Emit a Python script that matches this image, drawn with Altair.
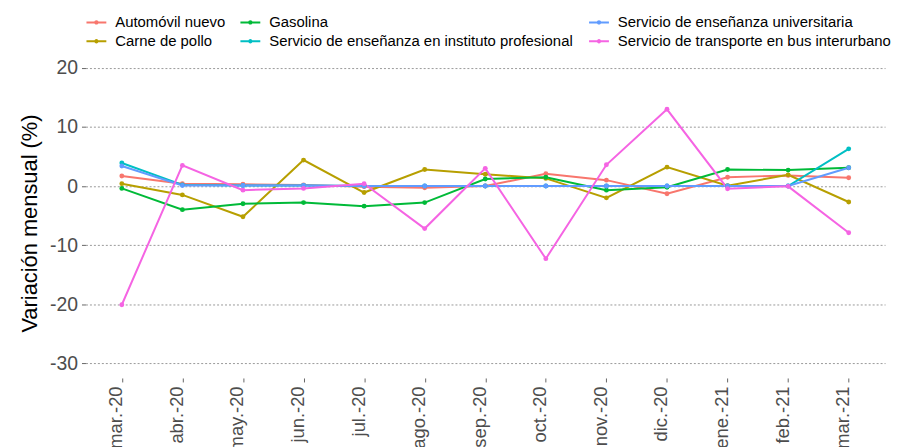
import altair as alt
import pandas as pd

months = ["mar.-20", "abr.-20", "may.-20", "jun.-20", "jul.-20", "ago.-20", "sep.-20",
          "oct.-20", "nov.-20", "dic.-20", "ene.-21", "feb.-21", "mar.-21"]

auto = [1.7, 0.4, 0.3, 0.2, -0.1, -0.3, 0.0, 2.1, 1.0, -1.3, 1.5, 1.8, 1.4]
carne = [0.4, -1.5, -5.2, 4.4, -1.1, 2.8, 2.0, 1.3, -2.0, 3.2, 0.05, 1.9, -2.7]
gasolina = [-0.4, -4.0, -3.0, -2.8, -3.4, -2.8, 1.2, 1.5, -0.7, -0.2, 2.8, 2.7, 3.1]
instituto = [3.9, 0.2, 0.1, 0.1, 0.0, 0.0, 0.0, 0.0, 0.0, 0.0, 0.0, 0.0, 6.3]
univ = [3.4, 0.1, 0.1, 0.1, 0.0, 0.0, 0.0, 0.0, 0.0, 0.0, 0.0, 0.0, 3.1]
bus = [-20.1, 3.5, -0.7, -0.4, 0.4, -7.2, 3.0, -12.3, 3.6, 13.0, -0.45, -0.05, -7.9]

series_names = ["Automóvil nuevo", "Carne de pollo", "Gasolina",
                "Servicio de enseñanza en instituto profesional",
                "Servicio de enseñanza universitaria",
                "Servicio de transporte en bus interurbano"]
series_values = [auto, carne, gasolina, instituto, univ, bus]
series_colors = ["#F8766D", "#B79F00", "#00BA38", "#00BFC4", "#619CFF", "#F564E3"]

# legend order (row-major, 3 columns) to mimic ggplot's column-major 2-row legend
legend_order = [0, 2, 4, 1, 3, 5]
domain = [series_names[i] for i in legend_order]
colors = [series_colors[i] for i in legend_order]

rows = []
for name, vals in zip(series_names, series_values):
    for m, v in zip(months, vals):
        rows.append({"Mes": m, "Serie": name, "Valor": v})
df = pd.DataFrame(rows)

FONT = "Liberation Sans"
W, H = 805, 327

symbol_path = ("M-1,0L1,0M-0.12,0A0.12,0.12,0,1,1,0.12,0"
               "A0.12,0.12,0,1,1,-0.12,0Z")

chart = alt.Chart(df).mark_line(
    strokeWidth=2,
    point=alt.OverlayMarkDef(filled=True, size=24, opacity=1),
).encode(
    x=alt.X("Mes:N", sort=months,
            scale=alt.Scale(type="point", padding=0.6),
            axis=alt.Axis(title=None, labelAngle=270, labelAlign="right",
                          labelBaseline="alphabetic", labelFontSize=18.5,
                          labelColor="#4d4d4d", labelFont=FONT,
                          tickSize=4, tickColor="#666666", tickWidth=1,
                          labelPadding=4, domain=False, grid=False)),
    y=alt.Y("Valor:Q",
            scale=alt.Scale(domain=[-32.5, 22.5], nice=False, zero=False),
            axis=alt.Axis(title="Variación mensual (%)",
                          values=[-30, -20, -10, 0, 10, 20],
                          labelExpr="'' + datum.value",
                          labelFontSize=19.5, labelColor="#4d4d4d", labelFont=FONT,
                          tickSize=4, tickColor="#666666", tickWidth=1,
                          labelPadding=4, domain=False,
                          grid=True, gridColor="#999999", gridDash=[2, 2],
                          gridWidth=1,
                          titleFont=FONT, titleFontSize=22, titleColor="black",
                          titleFontWeight="normal", titleAngle=270,
                          titleAlign="center", titleBaseline="middle",
                          titleX=-56, titleY=171)),
    color=alt.Color("Serie:N",
                    scale=alt.Scale(domain=domain, range=colors),
                    legend=alt.Legend(title=None, orient="none",
                                      legendX=0, legendY=-42,
                                      columns=3, direction="horizontal",
                                      symbolType=symbol_path, symbolSize=400,
                                      symbolStrokeWidth=2,
                                      labelFontSize=15, labelFont=FONT,
                                      labelColor="black", labelOffset=8,
                                      columnPadding=11, rowPadding=0,
                                      padding=0, labelLimit=0)),
).properties(
    width=W, height=H,
    autosize=alt.AutoSizeParams(type="none"),
    padding={"left": 78, "top": 44, "right": 8, "bottom": 68},
    background="white",
).configure_view(strokeWidth=0)

chart.save("out.html", embed_options={"renderer": "svg", "actions": False})
